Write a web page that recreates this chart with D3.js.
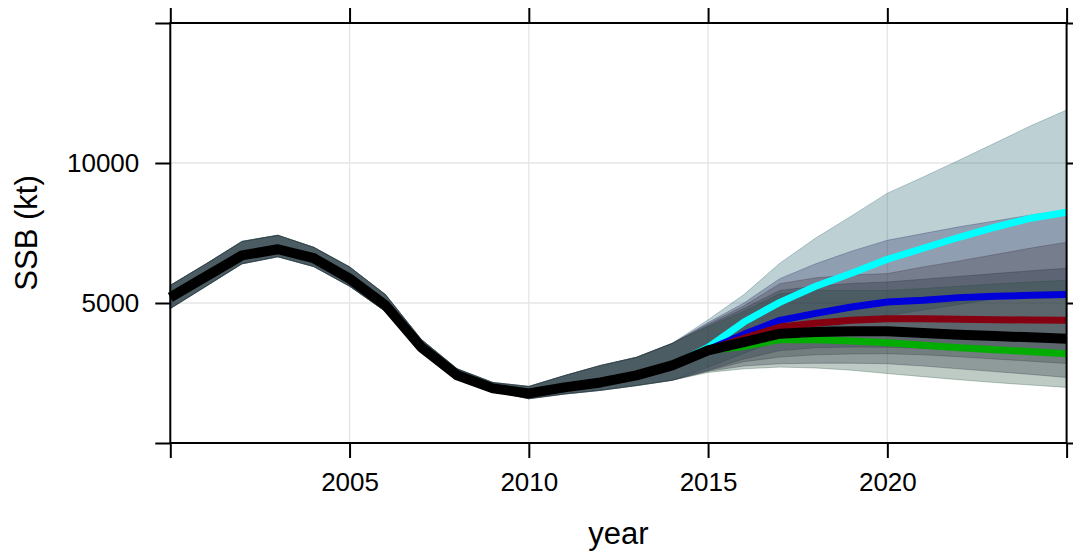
<!DOCTYPE html>
<html>
<head>
<meta charset="utf-8">
<script src="https://cdn.jsdelivr.net/npm/d3@7"></script>
<style>
  body { margin: 0; background: #fff; }
  text { font-family: "Liberation Sans", Arial, Helvetica, sans-serif; }
</style>
</head>
<body>
<script>

// historical estimate 2000-2014
var histYears = [2000,2001,2002,2003,2004,2005,2006,2007,2008,2009,2010,2011,2012,2013,2014];
var histSSB   = [5200,5950,6700,6920,6600,5870,4920,3420,2420,1950,1770,1985,2163,2414,2771];
var histUpper = [5630,6400,7200,7420,6990,6290,5300,3700,2650,2160,2020,2410,2770,3060,3560];
var histLower = [4800,5600,6400,6650,6300,5600,4700,3250,2300,1850,1580,1750,1880,2050,2240];

// projection years 2015-2025
var projYears = [2015,2016,2017,2018,2019,2020,2021,2022,2023,2024,2025];

var cyanSSB   = [3415,4320,5024,5596,6061,6562,6955,7348,7706,8028,8243];
var cyanUpper = [4400,5300,6420,7320,8110,8920,9500,10100,10710,11330,11890];
var cyanLower = [2700,3200,3700,4000,4300,4550,4750,4950,5150,5300,5450];

var blueSSB   = [3330,3880,4380,4631,4856,5035,5096,5192,5239,5275,5300];
var blueUpper = [4300,5000,5870,6400,6850,7240,7480,7720,7930,8140,8310];
var blueLower = [2600,3000,3300,3400,3430,3420,3380,3320,3260,3200,3130];

var redSSB    = [3320,3737,4141,4273,4380,4441,4441,4416,4405,4393,4380];
var redUpper  = [4250,4900,5690,5900,6000,6050,6290,6500,6730,6960,7170];
var redLower  = [2580,2900,3070,3150,3180,3190,3150,3080,3000,2920,2840];

var blackSSB   = [3308,3600,3905,3962,3987,3987,3926,3869,3819,3773,3726];
var blackUpper = [4200,4800,5450,5600,5700,5750,5850,5950,6050,6150,6240];
var blackLower = [2560,2750,2830,2850,2850,2830,2750,2650,2550,2450,2340];

var greenSSB   = [3300,3450,3690,3690,3640,3583,3487,3404,3333,3261,3190];
var greenUpper = [4150,4700,5330,5450,5450,5450,5520,5600,5680,5750,5810];
var greenLower = [2520,2650,2710,2680,2600,2480,2370,2260,2160,2070,1985];

var xTicks = [2000,2005,2010,2015,2020,2025];
var xTickLabels = ["","2005","2010","2015","2020",""];
var yTicks = [0,5000,10000,15000];
var yTickLabels = ["","5000","10000",""];

var scenarios = [
  {name:"cyan",  col:"#00ffff", mid:cyanSSB,  up:cyanUpper,  lo:cyanLower},
  {name:"blue",  col:"#0000d8", mid:blueSSB,  up:blueUpper,  lo:blueLower},
  {name:"red",   col:"#850010", mid:redSSB,   up:redUpper,   lo:redLower},
  {name:"green", col:"#00ad00", mid:greenSSB, up:greenUpper, lo:greenLower},
  {name:"black", col:"#000000", mid:blackSSB, up:blackUpper, lo:blackLower}
];

var W = 1073, H = 555;

var svg = d3.select("body").append("svg")
            .attr("width", W)
            .attr("height", H);

var x = d3.scaleLinear().domain([2000,2025]).range([170.3,1066.6]);
var y = d3.scaleLinear().domain([0,15000]).range([443,23]);

// grid
svg.append("g").selectAll("line")
   .data(xTicks.slice(1,-1))
   .enter().append("line")
   .attr("x1", function(d){return x(d);})
   .attr("x2", function(d){return x(d);})
   .attr("y1", y(0)).attr("y2", y(15000))
   .style("stroke","#e6e6e6").style("stroke-width",1.4);

svg.append("g").selectAll("line")
   .data(yTicks.slice(1,-1))
   .enter().append("line")
   .attr("y1", function(d){return y(d);})
   .attr("y2", function(d){return y(d);})
   .attr("x1", x(2000)).attr("x2", x(2025))
   .style("stroke","#e6e6e6").style("stroke-width",1.4);

// build full series (history + projection) for each scenario
function series(s){
  var pts = [];
  histYears.forEach(function(yr,i){
    pts.push({year:yr, mid:histSSB[i], up:histUpper[i], lo:histLower[i]});
  });
  projYears.forEach(function(yr,i){
    pts.push({year:yr, mid:s.mid[i], up:s.up[i], lo:s.lo[i]});
  });
  return pts;
}

var area = d3.area()
             .x(function(d){return x(d.year);})
             .y0(function(d){return y(d.lo);})
             .y1(function(d){return y(d.up);});

var line = d3.line()
             .x(function(d){return x(d.year);})
             .y(function(d){return y(d.mid);});

var plot = svg.append("g");

// uncertainty bands
scenarios.forEach(function(s){
  var c = d3.interpolateRgb("#2c3c48", s.col)(0.2);
  plot.append("path")
      .datum(series(s))
      .attr("d", area)
      .style("fill", c)
      .style("fill-opacity", 0.3)
      .style("stroke", c)
      .style("stroke-opacity", 0.3)
      .style("stroke-width", 1);
});

// median lines for projections
scenarios.forEach(function(s){
  if (s.name == "black") return;
  plot.append("path")
      .datum(series(s).filter(function(d){return d.year >= 2014;}))
      .attr("d", line)
      .style("fill","none")
      .style("stroke", s.col)
      .style("stroke-width", 7)
      .style("stroke-linejoin","round");
});

// black: history + base projection
plot.append("path")
    .datum(series(scenarios[4]))
    .attr("d", line)
    .style("fill","none")
    .style("stroke","#000")
    .style("stroke-width", 10)
    .style("stroke-linejoin","round");

// axes
function styleAxis(g){
  g.select(".domain").remove();
  g.selectAll(".tick line").style("stroke","#000").style("stroke-width",2);
  g.selectAll(".tick text").style("font-size","26px").style("fill","#000")
   .style("font-family",'"Liberation Sans", Arial, sans-serif');
}

svg.append("g").attr("transform","translate(0,"+y(0)+")")
   .call(d3.axisBottom(x).tickValues(xTicks).tickSize(15).tickPadding(15)
          .tickFormat(function(d,i){return xTickLabels[i];}))
   .call(styleAxis);

svg.append("g").attr("transform","translate(0,"+y(15000)+")")
   .call(d3.axisTop(x).tickValues(xTicks).tickSize(15).tickFormat(""))
   .call(styleAxis);

svg.append("g").attr("transform","translate("+x(2000)+",0)")
   .call(d3.axisLeft(y).tickValues(yTicks).tickSize(15).tickPadding(16)
          .tickFormat(function(d,i){return yTickLabels[i];}))
   .call(styleAxis);

svg.append("g").attr("transform","translate("+x(2025)+",0)")
   .call(d3.axisRight(y).tickValues(yTicks).tickSize(15).tickFormat(""))
   .call(styleAxis);

// frame
svg.append("rect")
   .attr("x", x(2000)).attr("y", y(15000))
   .attr("width", x(2025)-x(2000)).attr("height", y(0)-y(15000))
   .style("fill","none").style("stroke","#000").style("stroke-width",2);

// axis titles
svg.append("text")
   .attr("x", (x(2000)+x(2025))/2)
   .attr("y", 544)
   .attr("text-anchor","middle")
   .style("font-size","31px")
   .text("year");

svg.append("text")
   .attr("transform","translate(37,"+((y(0)+y(15000))/2)+") rotate(-90)")
   .attr("text-anchor","middle")
   .style("font-size","31px")
   .text("SSB (kt)");

</script>
</body>
</html>
